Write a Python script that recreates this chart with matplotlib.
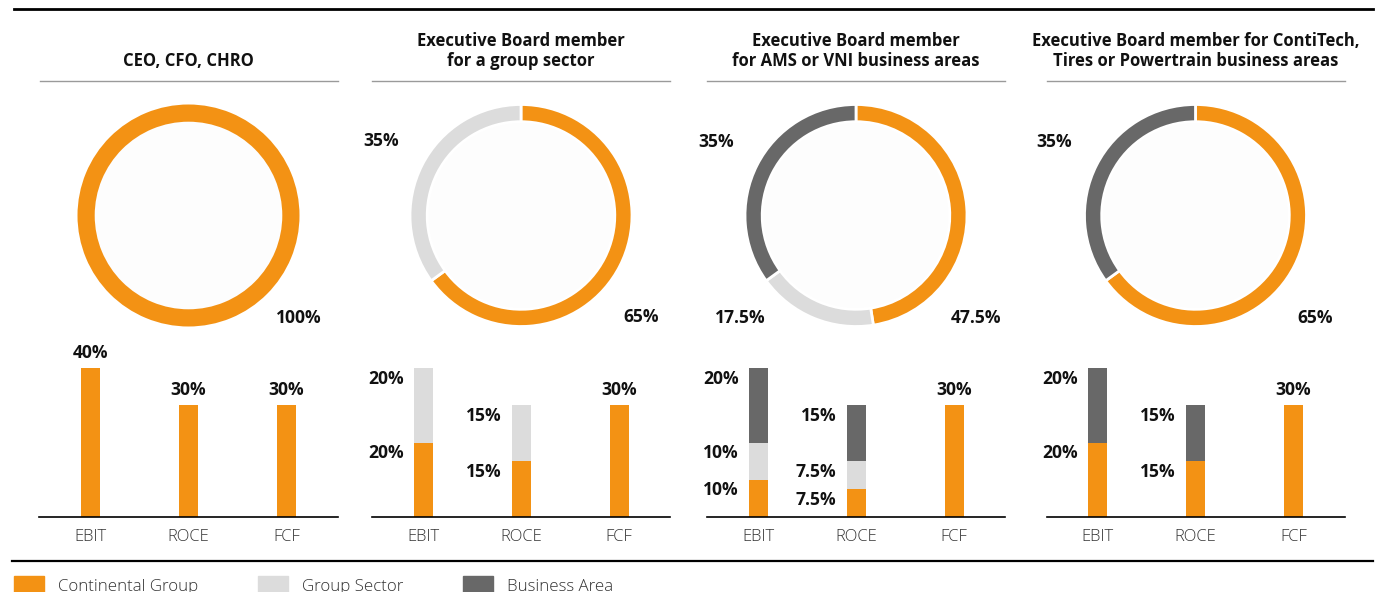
import matplotlib
matplotlib.use("Agg")
import matplotlib.pyplot as plt
from matplotlib.lines import Line2D
from matplotlib.patches import Rectangle, Circle

plt.rcParams['font.family'] = ['Open Sans', 'DejaVu Sans']

# ---- data ----
titles = [
    "CEO, CFO, CHRO",
    "Executive Board member\nfor a group sector",
    "Executive Board member\nfor AMS or VNI business areas",
    "Executive Board member for ContiTech,\nTires or Powertrain business areas",
]
categories = ["EBIT", "ROCE", "FCF"]

# bar segments per panel (Continental Group / Group Sector / Business Area)
group_vals = [[40, 30, 30], [20, 15, 30], [10, 7.5, 30], [20, 15, 30]]
sector_vals = [[0, 0, 0], [20, 15, 0], [10, 7.5, 0], [0, 0, 0]]
area_vals = [[0, 0, 0], [0, 0, 0], [20, 15, 0], [20, 15, 0]]

# donut shares per panel
group_share = [100, 65, 47.5, 65]
sector_share = [0, 35, 17.5, 0]
area_share = [0, 0, 35, 35]

legend_labels = ["Continental Group", "Group Sector", "Business Area"]

# ---- style ----
ORANGE = "#F39214"
LIGHT = "#DCDCDC"
DARK = "#686868"
colors = [ORANGE, LIGHT, DARK]

W, H = 1378, 592
def fx(x):
    return x / W
def fy(y):
    return 1 - y / H

panel_cx = [188.5, 521, 856, 1195.5]
donut_cy = 215.5
donut_r = 111
half_w = 149
px_per_pct = 3.72
base_y = 517
bar_top_y = 333

# donut label positions (x centre, baseline) in pixels
donut_label_pos = [
    [(299, 323)],
    [(641, 322), (381, 146)],
    [(976, 323), (740, 323), (716, 147)],
    [(1315, 323), (1054, 147)],
]

fig = plt.figure(figsize=(W / 100, H / 100), dpi=100)

# frame lines
fig.add_artist(Line2D([fx(14), fx(1373)], [fy(8.5), fy(8.5)], color="black", lw=2))
fig.add_artist(Line2D([fx(12), fx(1373)], [fy(561), fy(561)], color="black", lw=1.6))

label_kw = dict(fontsize=12.6, fontweight="bold", color="#111111")

for i, cx in enumerate(panel_cx):
    # title
    lines = titles[i].split("\n")
    baselines = [65.5] if len(lines) == 1 else [46, 66]
    for line, by in zip(lines, baselines):
        fig.text(fx(cx), fy(by), line, ha="center", va="baseline",
                 fontsize=12, fontweight="bold", color="#111111")
    fig.add_artist(Line2D([fx(cx - half_w), fx(cx + half_w)], [fy(81), fy(81)],
                          color="#9a9a9a", lw=1))

    # donut
    ax = fig.add_axes([fx(cx - donut_r), fy(donut_cy + donut_r),
                       2 * donut_r / W, 2 * donut_r / H])
    shares = [group_share[i], sector_share[i], area_share[i]]
    vals = [s for s in shares if s > 0]
    cols = [c for s, c in zip(shares, colors) if s > 0]
    lw = 2 if len(vals) > 1 else 0
    ax.add_patch(Circle((0, 0), 0.84, color="#fdfdfd", zorder=0))
    ax.pie(vals, colors=cols, startangle=90, counterclock=False, radius=1.0,
           wedgeprops=dict(width=0.155, edgecolor="white", linewidth=lw))
    ax.set_xlim(-1, 1)
    ax.set_ylim(-1, 1)
    ax.set_aspect("equal")
    for v, (lx, ly) in zip(vals, donut_label_pos[i]):
        fig.text(fx(lx), fy(ly), f"{v:g}%", ha="center", va="baseline", **label_kw)

    # bars
    bx = fig.add_axes([fx(cx - half_w), fy(base_y), 2 * half_w / W,
                       (base_y - bar_top_y) / H])
    xs = list(range(len(categories)))
    width = 19 / 98
    g, s, a = group_vals[i], sector_vals[i], area_vals[i]
    bx.bar(xs, g, width=width, color=ORANGE)
    bx.bar(xs, s, width=width, bottom=g, color=LIGHT)
    bx.bar(xs, a, width=width, bottom=[p + q for p, q in zip(g, s)], color=DARK)
    for x in xs:
        segs = [(g[x], 0), (s[x], g[x]), (a[x], g[x] + s[x])]
        segs = [(v, b) for v, b in segs if v > 0]
        if len(segs) == 1:
            v, b = segs[0]
            bx.annotate(f"{v:g}%", xy=(x, b + v), xytext=(0, 7.6),
                        textcoords="offset points", ha="center", va="baseline", **label_kw)
        else:
            for v, b in segs:
                bx.annotate(f"{v:g}%", xy=(x - width / 2, b + v), xytext=(-7.2, -11.2),
                            textcoords="offset points", ha="right", va="baseline", **label_kw)
    bx.set_xlim(1 - half_w / 98, 1 + half_w / 98)
    bx.set_ylim(0, (base_y - bar_top_y) / px_per_pct)
    bx.set_xticks(xs)
    bx.set_xticklabels(categories, fontsize=12, fontweight="light", color="#333333")
    bx.tick_params(axis="x", length=0, pad=8.5)
    bx.set_yticks([])
    for side in ["top", "left", "right"]:
        bx.spines[side].set_visible(False)
    bx.spines["bottom"].set_linewidth(1.2)
    bx.spines["bottom"].set_color("black")
    bx.patch.set_alpha(0)

# legend
legend_x = [14, 258, 463]
for lx, lab, col in zip(legend_x, legend_labels, colors):
    fig.add_artist(Rectangle((fx(lx), fy(600)), 30 / W, 24 / H, color=col,
                             transform=fig.transFigure))
    fig.text(fx(lx + 44), fy(591), lab, ha="left", va="baseline",
             fontsize=12.2, fontweight="light", color="#333333")

fig.savefig("out.png", dpi=100)
